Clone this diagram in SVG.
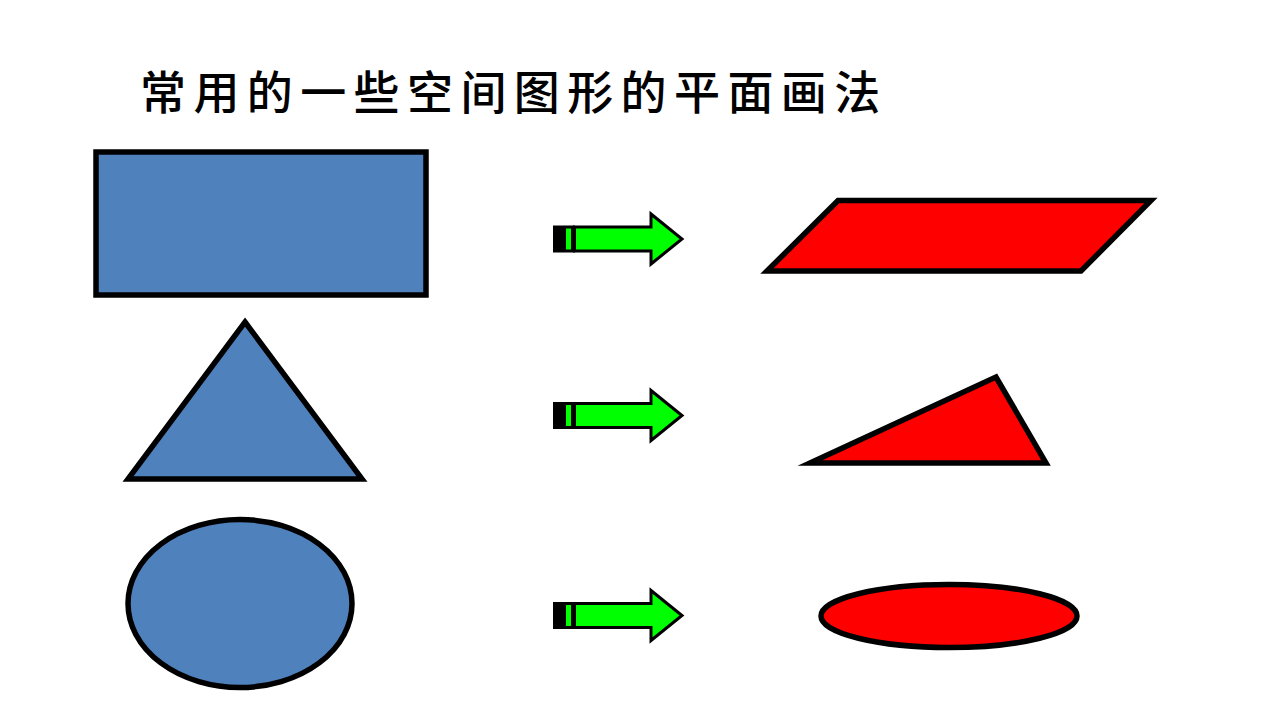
<svg xmlns="http://www.w3.org/2000/svg" xmlns:xlink="http://www.w3.org/1999/xlink" width="1280" height="720" viewBox="0 0 1280 720">
  <style>
    .blue { fill: #4F81BD; stroke: #000000; stroke-width: 5.5; stroke-linejoin: miter; stroke-miterlimit: 10; }
    .red { fill: #FF0000; stroke: #000000; stroke-width: 5.5; stroke-linejoin: miter; stroke-miterlimit: 10; }
    .body { fill: #00FF00; stroke: #000000; stroke-width: 3; stroke-linejoin: miter; }
    .title { font-family: "Noto Sans CJK SC", "Noto Sans CJK JP", sans-serif; font-size: 46px; font-weight: 500; fill: #000000; letter-spacing: 7.4px; }
  </style>
  <defs>
    <g id="arrow">
      <rect x="553" y="-13.5" width="22" height="27" fill="#000000"/>
      <rect x="566" y="-10.5" width="5" height="21" fill="#00FF00"/>
      <polygon class="body" points="574.5,-12 651,-12 651,-25 682,0 651,25 651,12 574.5,12"/>
    </g>
  </defs>
  <rect width="1280" height="720" fill="#FFFFFF"/>

  <g id="title">
    <text class="title" x="140" y="109">常用的一些空间图形的平面画法</text>
  </g>

  <g id="rectangle">
    <rect class="blue" x="96" y="152" width="330" height="143"/>
  </g>
  <g id="triangle">
    <polygon class="blue" points="245,322 362,479 128,479"/>
  </g>
  <g id="circle">
    <ellipse class="blue" cx="240" cy="603.5" rx="112" ry="84"/>
  </g>

  <g id="connectors">
    <use xlink:href="#arrow" transform="translate(0,239)"/>
    <use xlink:href="#arrow" transform="translate(0,415.5)"/>
    <use xlink:href="#arrow" transform="translate(0,615.5)"/>
  </g>

  <g id="parallelogram">
    <polygon class="red" points="838,200.5 1151,200.5 1081,271 767,271"/>
  </g>
  <g id="oblique-triangle">
    <polygon class="red" points="810,463 996,377 1046,463"/>
  </g>
  <g id="flat-ellipse">
    <ellipse class="red" cx="949" cy="616" rx="128" ry="31.5"/>
  </g>
</svg>
